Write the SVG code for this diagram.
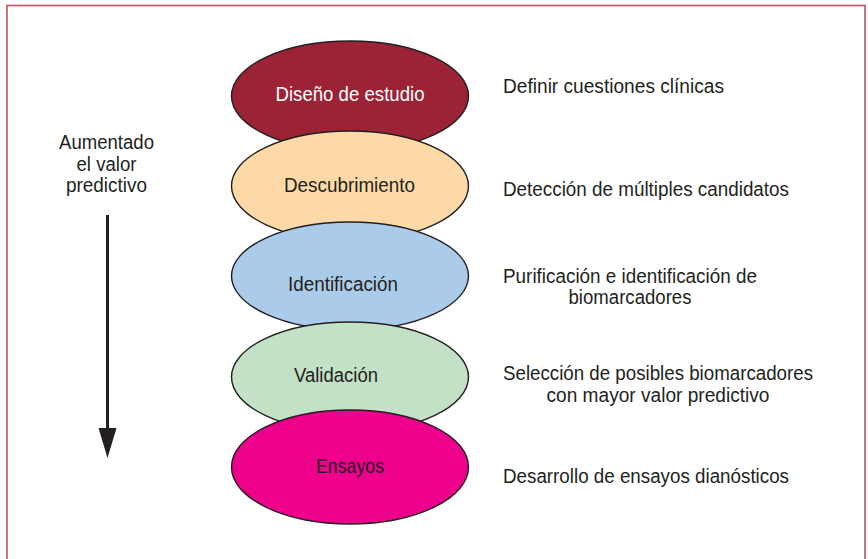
<svg xmlns="http://www.w3.org/2000/svg" width="868" height="559" viewBox="0 0 868 559">
<style>
  text { font-family: "Liberation Sans", Arial, sans-serif; font-size: 19.5px; fill: #231f20; }
  .stage { stroke: #231f20; stroke-width: 1.4; }
  .mid { text-anchor: middle; }
</style>
<rect x="0" y="0" width="868" height="559" fill="#ffffff"/>
<rect id="frame" x="7" y="5.5" width="858" height="600" fill="none" stroke="#c0505f" stroke-width="1.6"/>

<g id="stage-diseno">
  <ellipse class="stage" cx="350" cy="96" rx="118.5" ry="55" fill="#9b2335"/>
  <text class="mid" x="350" y="101" textLength="149" lengthAdjust="spacingAndGlyphs" style="fill:#ffffff">Diseño de estudio</text>
</g>
<g id="stage-descubrimiento">
  <ellipse class="stage" cx="350" cy="186" rx="118.5" ry="55" fill="#fdd9a8"/>
  <text class="mid" x="349.5" y="192" textLength="131" lengthAdjust="spacingAndGlyphs">Descubrimiento</text>
</g>
<g id="stage-identificacion">
  <ellipse class="stage" cx="350" cy="276" rx="118.5" ry="54" fill="#abcbea"/>
  <text class="mid" x="343" y="291" textLength="110" lengthAdjust="spacingAndGlyphs">Identificación</text>
</g>
<g id="stage-validacion">
  <ellipse class="stage" cx="350" cy="377" rx="118.5" ry="55" fill="#c3e1c6"/>
  <text class="mid" x="336" y="382" textLength="84" lengthAdjust="spacingAndGlyphs">Validación</text>
</g>
<g id="stage-ensayos">
  <ellipse class="stage" cx="350" cy="467" rx="118.5" ry="57" fill="#ec008c"/>
  <text class="mid" x="350" y="473" textLength="68" lengthAdjust="spacingAndGlyphs">Ensayos</text>
</g>

<g id="desc-1"><text x="503" y="93" textLength="221" lengthAdjust="spacingAndGlyphs">Definir cuestiones clínicas</text></g>
<g id="desc-2"><text x="503" y="196" textLength="286" lengthAdjust="spacingAndGlyphs">Detección de múltiples candidatos</text></g>
<g id="desc-3">
  <text class="mid" x="630" y="283" textLength="254" lengthAdjust="spacingAndGlyphs">Purificación e identificación de</text>
  <text class="mid" x="630" y="304" textLength="123" lengthAdjust="spacingAndGlyphs">biomarcadores</text>
</g>
<g id="desc-4">
  <text class="mid" x="658" y="380" textLength="310" lengthAdjust="spacingAndGlyphs">Selección de posibles biomarcadores</text>
  <text class="mid" x="658" y="402" textLength="223" lengthAdjust="spacingAndGlyphs">con mayor valor predictivo</text>
</g>
<g id="desc-5"><text x="503" y="483" textLength="286" lengthAdjust="spacingAndGlyphs">Desarrollo de ensayos dianósticos</text></g>

<g id="axis-label">
  <text class="mid" x="106.5" y="149" textLength="95" lengthAdjust="spacingAndGlyphs">Aumentado</text>
  <text class="mid" x="106.5" y="171" textLength="60" lengthAdjust="spacingAndGlyphs">el valor</text>
  <text class="mid" x="106.5" y="192" textLength="81" lengthAdjust="spacingAndGlyphs">predictivo</text>
</g>

<g id="connectors">
  <line x1="107.5" y1="215" x2="107.5" y2="430" stroke="#231f20" stroke-width="3"/>
  <polygon points="98.5,428 116.5,428 107.5,458" fill="#231f20"/>
</g>
</svg>
